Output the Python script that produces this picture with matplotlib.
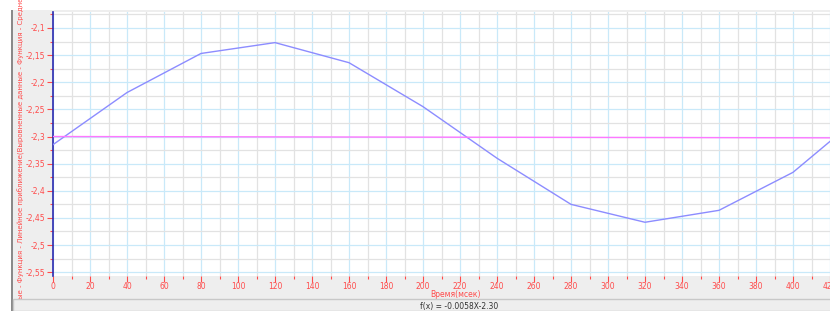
import matplotlib.pyplot as plt
from matplotlib.patches import Rectangle
from matplotlib.ticker import MultipleLocator, FuncFormatter

# data
t_ms = [0, 40, 80, 120, 160, 200, 240, 280, 320, 360, 400, 420]
values = [-2.315, -2.219, -2.147, -2.127, -2.164, -2.245, -2.340, -2.425, -2.458, -2.436, -2.366, -2.309]
fit_slope = -0.0058   # per second
fit_icpt = -2.30
fit_x = [0, 420]
fit_y = [fit_slope * x / 1000.0 + fit_icpt for x in fit_x]

red = '#ff4b4b'
fig = plt.figure(figsize=(8.3, 3.11), dpi=100)
fig.patch.set_facecolor('white')

# gray panel + status bar
fig.patches.append(Rectangle((12/830, 0), 1, 1 - 10/311, transform=fig.transFigure,
                             facecolor='#eeeeee', edgecolor='none', zorder=0))
fig.patches.append(Rectangle((11/830, 0), 2/830, 1 - 10/311, transform=fig.transFigure,
                             facecolor='#8a8a8a', edgecolor='none', zorder=1))
fig.patches.append(Rectangle((13/830, 0), 1, 12/311, transform=fig.transFigure,
                             facecolor='#eeeeee', edgecolor='#c8c8c8', lw=1.0, zorder=5))

ax = fig.add_axes([53/830, 1 - 276/311, 777/830, 264/311])
ax.set_zorder(3)
ax.set_facecolor('white')
ax.plot(t_ms, values, color='#8c8cff', lw=1.0, zorder=3)
ax.plot(fit_x, fit_y, color='#ff77ff', lw=1.0, zorder=3)

ax.set_xlim(0, 420)
ax.set_ylim(-2.557, -2.0706)

ax.xaxis.set_major_locator(MultipleLocator(20))
ax.xaxis.set_minor_locator(MultipleLocator(10))
ax.yaxis.set_major_locator(MultipleLocator(0.05))
ax.yaxis.set_minor_locator(MultipleLocator(0.025))
ax.yaxis.set_major_formatter(FuncFormatter(lambda v, p: ('%g' % round(v, 3)).replace('.', ',')))

ax.grid(which='minor', color='#e2e2e2', lw=0.9, zorder=1)
ax.grid(which='major', color='#c9e9f9', lw=0.9, zorder=2)
ax.set_axisbelow(True)

ax.tick_params(which='major', direction='out', length=4, width=0.8, color=red,
               labelcolor=red, labelsize=5.5, pad=1.5)
ax.tick_params(axis='x', which='major', pad=0.6)
ax.tick_params(which='minor', direction='out', length=2.5, width=0.8, color=red)

for s in ['top', 'right', 'bottom']:
    ax.spines[s].set_visible(False)
ax.spines['left'].set_color('#2b2bb0')
ax.spines['left'].set_linewidth(1.2)

ax.set_xlabel('Время(мсек)', color=red, fontsize=5.5, va='center')
ax.xaxis.set_label_coords((455 - 53) / 777, (276 - 294.2) / 264)

ylab = ('ые - Функция - Линейное приближение(Выровненные данные - Функция - '
        'Среднее(Выровненные данные - Функция - Среднее')
fig.text(21/830, 12/311, ylab, rotation=90, ha='center', va='bottom',
         color=red, fontsize=5.0, zorder=2)

fig.text(459/830, 5/311, 'f(x) = -0.0058X-2.30', ha='center', va='center',
         color='#333333', fontsize=5.5, zorder=6)

fig.savefig('out.png', dpi=100)
